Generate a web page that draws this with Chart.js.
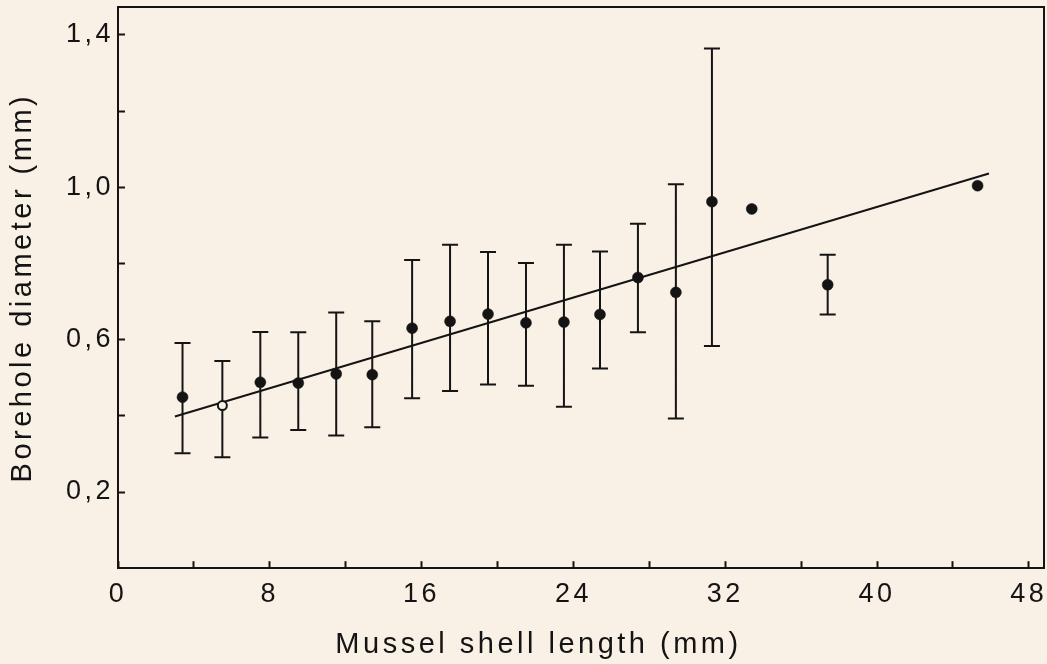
<!DOCTYPE html>
<html>
<head>
<meta charset="utf-8">
<script src="https://cdn.jsdelivr.net/npm/chart.js@4/dist/chart.umd.min.js"></script>
<style>
  html, body { margin: 0; padding: 0; background: #faf1e6; overflow: hidden; }
  #wrap { width: 1047px; height: 664px; }
</style>
</head>
<body>
<div id="wrap"><canvas id="c" width="1047" height="664"></canvas></div>
<script>
// ---- data ----
const shellLength  = [3.4, 5.5, 7.5, 9.5, 11.5, 13.4, 15.5, 17.5, 19.5, 21.5, 23.5, 25.4, 27.4, 29.4, 31.3, 33.4, 37.4, 45.3];
const meanDiameter = [0.449, 0.427, 0.488, 0.486, 0.510, 0.508, 0.630, 0.648, 0.667, 0.644, 0.646, 0.666, 0.763, 0.724, 0.962, 0.943, 0.744, 1.004];
const upperBar     = [0.591, 0.544, 0.620, 0.619, 0.671, 0.648, 0.809, 0.849, 0.830, 0.801, 0.849, 0.831, 0.904, 1.008, 1.364, null, 0.823, null];
const lowerBar     = [0.302, 0.291, 0.343, 0.363, 0.348, 0.370, 0.446, 0.465, 0.482, 0.479, 0.424, 0.524, 0.619, 0.393, 0.583, null, 0.666, null];
const fitLength    = [3.0, 45.9];
const fitDiameter  = [0.398, 1.036];
const xTicks       = [0, 4, 8, 12, 16, 20, 24, 28, 32, 36, 40, 44, 48];
const xTickLabels  = ['0', '', '8', '', '16', '', '24', '', '32', '', '40', '', '48'];
const yTicks       = [0.2, 0.4, 0.6, 0.8, 1.0, 1.2, 1.4];
const yTickLabels  = ['0,2', '', '0,6', '', '1,0', '', '1,4'];
const xTitle = 'Mussel shell length (mm)';
const yTitle = 'Borehole diameter (mm)';

// ---- styling ----
const INK = '#141414';
const BG = '#faf1e6';
const FAMILY = "'Liberation Sans', Arial, Helvetica, sans-serif";
Chart.defaults.font.family = FAMILY;
Chart.defaults.color = INK;

const meanPoints = shellLength.map((x, i) => ({ x: x, y: meanDiameter[i] }));
const barPoints = [];
shellLength.forEach((x, i) => {
  if (upperBar[i] != null && lowerBar[i] != null) {
    barPoints.push({ x: x, y: lowerBar[i] }, { x: x, y: upperBar[i] }, { x: x, y: null });
  }
});
const fitPoints = fitLength.map((x, i) => ({ x: x, y: fitDiameter[i] }));

const hollowIndex = 1;

const spacingPlugin = {
  id: 'letterSpacing',
  beforeLayout(chart) { chart.ctx.letterSpacing = '3.5px'; },
  beforeDraw(chart) { chart.ctx.letterSpacing = '3.5px'; }
};

function noPad(s) { s.paddingLeft = 0; s.paddingRight = 0; s.paddingTop = 0; s.paddingBottom = 0; }

new Chart(document.getElementById('c'), {
  type: 'scatter',
  data: {
    datasets: [
      {
        label: 'mean',
        data: meanPoints,
        order: 0,
        pointRadius: ctx => ctx.dataIndex === hollowIndex ? 4.5 : 5.5,
        pointBackgroundColor: ctx => ctx.dataIndex === hollowIndex ? BG : INK,
        pointBorderColor: INK,
        pointBorderWidth: ctx => ctx.dataIndex === hollowIndex ? 2 : 0.5,
        showLine: false
      },
      {
        label: 'range',
        data: barPoints,
        order: 1,
        showLine: true,
        spanGaps: false,
        borderColor: INK,
        borderWidth: 2,
        pointStyle: 'line',
        pointRadius: 8,
        pointBorderWidth: 2,
        pointBorderColor: INK
      },
      {
        label: 'fit',
        data: fitPoints,
        order: 2,
        showLine: true,
        borderColor: INK,
        borderWidth: 2,
        pointRadius: 0
      }
    ]
  },
  options: {
    responsive: false,
    animation: false,
    devicePixelRatio: 1,
    events: [],
    layout: { autoPadding: false, padding: { left: 30, right: 0, top: 0, bottom: 0 } },
    plugins: {
      legend: { display: false },
      tooltip: { enabled: false },
      title: {
        display: true,
        position: 'bottom',
        text: xTitle,
        color: INK,
        font: { size: 29, weight: 'normal', family: FAMILY },
        padding: { top: 0, bottom: 2 }
      }
    },
    scales: {
      x: {
        type: 'linear',
        position: 'bottom',
        min: 0,
        max: 48.8,
        afterBuildTicks: s => { s.ticks = xTicks.map(v => ({ value: v })); },
        afterFit: s => { s.height = 59; noPad(s); },
        ticks: {
          autoSkip: false,
          maxRotation: 0,
          padding: 17,
          color: INK,
          font: { size: 27, family: FAMILY },
          callback: v => xTickLabels[xTicks.indexOf(v)]
        },
        grid: { drawOnChartArea: false, drawTicks: true, tickLength: -7, tickWidth: 2, tickColor: INK },
        border: { display: true, color: INK, width: 2 }
      },
      y: {
        type: 'linear',
        position: 'left',
        min: 0,
        max: 1.473,
        afterBuildTicks: s => { s.ticks = yTicks.map(v => ({ value: v })); },
        afterFit: s => { s.width = 88; noPad(s); },
        ticks: {
          autoSkip: false,
          padding: 11,
          color: INK,
          font: { size: 27, family: FAMILY },
          callback: v => {
            const i = yTicks.findIndex(t => Math.abs(t - v) < 1e-9);
            return i >= 0 ? yTickLabels[i] : '';
          }
        },
        grid: { drawOnChartArea: false, drawTicks: true, tickLength: -7, tickWidth: 2, tickColor: INK },
        border: { display: true, color: INK, width: 2 },
        title: {
          display: true,
          text: yTitle,
          color: INK,
          font: { size: 29, family: FAMILY },
          padding: { top: -24, bottom: 0 }
        }
      },
      x2: {
        type: 'linear',
        position: 'top',
        min: 0,
        max: 48.8,
        ticks: { display: false },
        grid: { display: false },
        border: { display: true, color: INK, width: 2 },
        afterFit: s => { s.height = 7; noPad(s); }
      },
      y2: {
        type: 'linear',
        position: 'right',
        min: 0,
        max: 1.473,
        ticks: { display: false },
        grid: { display: false },
        border: { display: true, color: INK, width: 2 },
        afterFit: s => { s.width = 3; noPad(s); }
      }
    }
  },
  plugins: [spacingPlugin]
});
</script>
</body>
</html>
